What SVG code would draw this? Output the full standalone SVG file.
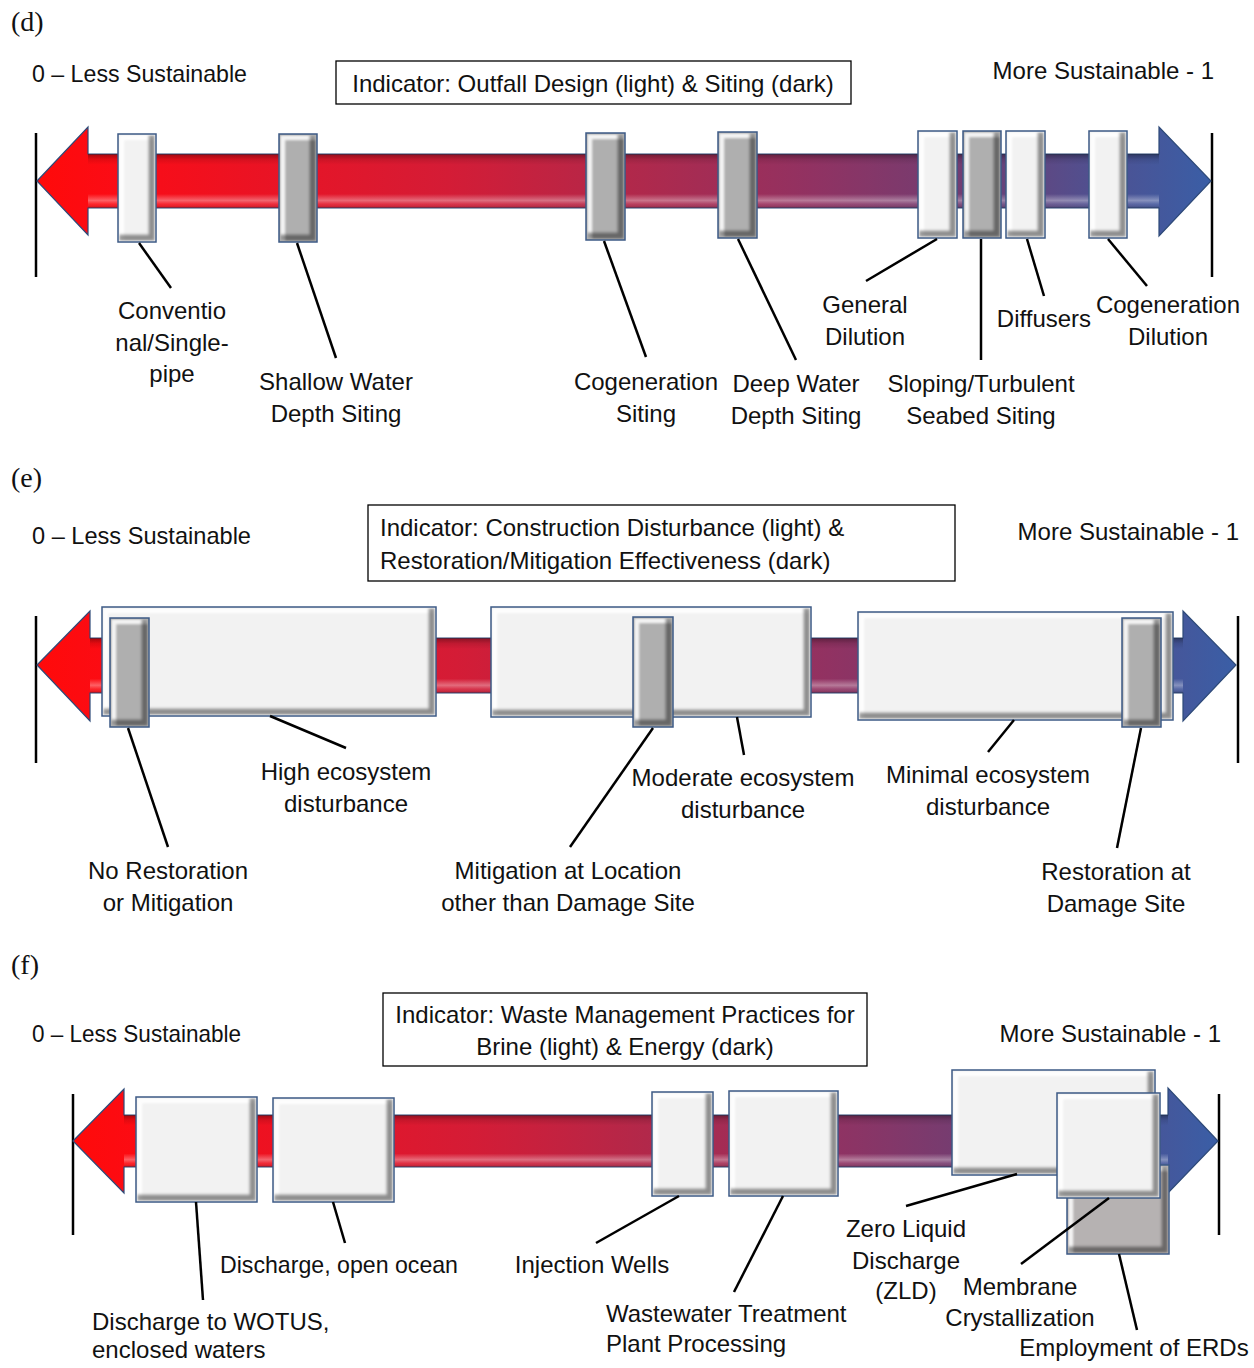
<svg xmlns="http://www.w3.org/2000/svg" width="1254" height="1368" viewBox="0 0 1254 1368">
<defs>
<style>
text{font-family:"Liberation Sans",Arial,sans-serif;font-size:24px;fill:#111;}
.pl{font-family:"Liberation Serif","Times New Roman",serif;font-size:28px;}
.c{text-anchor:middle;}
.r{text-anchor:end;}
.lt{fill:#f2f2f2;stroke:#3d5a85;stroke-width:1.5;filter:url(#bev);}
.dk{fill:#afafaf;stroke:#3d5a85;stroke-width:1.5;filter:url(#bev);}
.gr2{fill:#b6b2b2;stroke:#3d5a85;stroke-width:1.5;filter:url(#bev);}
.arr{fill:url(#grad);stroke:#2e4a78;stroke-width:1.2;}
.sh{fill:url(#shade);}
.ax{stroke:#000;stroke-width:2.5;fill:none;}
.ld line{stroke:#000;stroke-width:2.5;}
.tb{fill:#fff;stroke:#000;stroke-width:1.3;}
</style>
<linearGradient id="grad" x1="0" y1="0" x2="1" y2="0">
<stop offset="0" stop-color="#ff0a0a"/>
<stop offset="0.07" stop-color="#fb0c16"/>
<stop offset="0.35" stop-color="#d41c36"/>
<stop offset="0.5" stop-color="#b2284a"/>
<stop offset="0.66" stop-color="#913262"/>
<stop offset="0.8" stop-color="#6e3f74"/>
<stop offset="0.9" stop-color="#505090"/>
<stop offset="1" stop-color="#3a5ea6"/>
</linearGradient>
<linearGradient id="shade" x1="0" y1="0" x2="0" y2="1">
<stop offset="0" stop-color="#000" stop-opacity="0.35"/>
<stop offset="0.1" stop-color="#000" stop-opacity="0.1"/>
<stop offset="0.2" stop-color="#000" stop-opacity="0"/>
<stop offset="0.74" stop-color="#fff" stop-opacity="0"/>
<stop offset="0.86" stop-color="#fff" stop-opacity="0.35"/>
<stop offset="0.93" stop-color="#fff" stop-opacity="0.1"/>
<stop offset="1" stop-color="#000" stop-opacity="0.2"/>
</linearGradient>
<filter id="bev" x="-10%" y="-10%" width="120%" height="120%" color-interpolation-filters="sRGB">
<feMorphology in="SourceAlpha" operator="erode" radius="2" result="a"/>
<feOffset in="a" dx="-6" dy="-6" result="s1"/>
<feComposite in="a" in2="s1" operator="out" result="br0"/>
<feGaussianBlur in="br0" stdDeviation="1.6" result="br1"/>
<feComposite in="br1" in2="a" operator="in" result="br"/>
<feFlood flood-color="#000" flood-opacity="0.42" result="f1"/>
<feComposite in="f1" in2="br" operator="in" result="brc"/>
<feOffset in="a" dx="5" dy="5" result="s2"/>
<feComposite in="a" in2="s2" operator="out" result="tl0"/>
<feGaussianBlur in="tl0" stdDeviation="1.2" result="tl1"/>
<feComposite in="tl1" in2="a" operator="in" result="tl"/>
<feFlood flood-color="#fff" flood-opacity="0.85" result="f2"/>
<feComposite in="f2" in2="tl" operator="in" result="tlc"/>
<feMerge><feMergeNode in="SourceGraphic"/><feMergeNode in="tlc"/><feMergeNode in="brc"/></feMerge>
</filter>
</defs>
<rect width="1254" height="1368" fill="#fff"/>

<!-- ===== Panel (d) ===== -->
<g id="panel-d">
<text class="pl" x="11" y="31">(d)</text>
<text x="32" y="82" textLength="215" lengthAdjust="spacingAndGlyphs">0 – Less Sustainable</text>
<text class="r" x="1214" y="79">More Sustainable - 1</text>
<g id="d-title"><rect class="tb" x="336" y="61" width="515" height="43"/><text class="c" x="593" y="92">Indicator: Outfall Design (light) &amp; Siting (dark)</text></g>
<line class="ax" x1="36" y1="133" x2="36" y2="277"/>
<line class="ax" x1="1212" y1="133" x2="1212" y2="277"/>
<g id="d-arrow"><path class="arr" d="M37,181 L88,127 L88,154 L1159,154 L1159,127 L1211,181 L1159,236 L1159,208 L88,208 L88,235 Z"/><rect class="sh" x="88" y="154" width="1071" height="54"/></g>
</g>
<g id="d-conventional"><rect class="lt" x="118" y="134" width="38" height="108"/><text class="c" x="172" y="319">Conventio</text><text class="c" x="172" y="351">nal/Single-</text><text class="c" x="172" y="382">pipe</text></g>
<g id="d-shallow"><rect class="dk" x="279" y="134" width="38" height="108"/><text class="c" x="336" y="390">Shallow Water</text><text class="c" x="336" y="422">Depth Siting</text></g>
<g id="d-cogen-siting"><rect class="dk" x="586" y="133" width="39" height="107"/><text class="c" x="646" y="390">Cogeneration</text><text class="c" x="646" y="422">Siting</text></g>
<g id="d-deep"><rect class="dk" x="718" y="132" width="39" height="106"/><text class="c" x="796" y="392">Deep Water</text><text class="c" x="796" y="424">Depth Siting</text></g>
<g id="d-general"><rect class="lt" x="918" y="131" width="39" height="107"/><text class="c" x="865" y="313">General</text><text class="c" x="865" y="345">Dilution</text></g>
<g id="d-sloping"><rect class="dk" x="963" y="131" width="38" height="107"/><text class="c" x="981" y="392">Sloping/Turbulent</text><text class="c" x="981" y="424">Seabed Siting</text></g>
<g id="d-diffusers"><rect class="lt" x="1006" y="131" width="39" height="107"/><text class="c" x="1044" y="327">Diffusers</text></g>
<g id="d-cogen-dilution"><rect class="lt" x="1089" y="131" width="38" height="107"/><text class="c" x="1168" y="313">Cogeneration</text><text class="c" x="1168" y="345">Dilution</text></g>

<!-- ===== Panel (e) ===== -->
<g id="panel-e">
<text class="pl" x="11" y="487">(e)</text>
<text x="32" y="544" textLength="219" lengthAdjust="spacingAndGlyphs">0 – Less Sustainable</text>
<text class="r" x="1239" y="540">More Sustainable - 1</text>
<g id="e-title"><rect class="tb" x="368" y="505" width="587" height="76"/><text x="380" y="536">Indicator: Construction Disturbance (light) &amp;</text><text x="380" y="569">Restoration/Mitigation Effectiveness (dark)</text></g>
<line class="ax" x1="36" y1="616" x2="36" y2="763"/>
<line class="ax" x1="1238" y1="616" x2="1238" y2="763"/>
<g id="e-arrow"><path class="arr" d="M37,665 L90,611 L90,638 L1183,638 L1183,611 L1236,665 L1183,721 L1183,693 L90,693 L90,721 Z"/><rect class="sh" x="90" y="638" width="1093" height="55"/></g>
</g>
<g id="e-high"><rect class="lt" x="102" y="607" width="334" height="109"/><text class="c" x="346" y="780">High ecosystem</text><text class="c" x="346" y="812">disturbance</text></g>
<g id="e-moderate"><rect class="lt" x="491" y="607" width="320" height="110"/><text class="c" x="743" y="786">Moderate ecosystem</text><text class="c" x="743" y="818">disturbance</text></g>
<g id="e-minimal"><rect class="lt" x="858" y="612" width="315" height="108"/><text class="c" x="988" y="783">Minimal ecosystem</text><text class="c" x="988" y="815">disturbance</text></g>
<g id="e-norest"><rect class="dk" x="110" y="618" width="39" height="109"/><text class="c" x="168" y="879">No Restoration</text><text class="c" x="168" y="911">or Mitigation</text></g>
<g id="e-mitigation"><rect class="dk" x="633" y="617" width="40" height="110"/><text class="c" x="568" y="879">Mitigation at Location</text><text class="c" x="568" y="911">other than Damage Site</text></g>
<g id="e-restoration"><rect class="dk" x="1122" y="618" width="39" height="109"/><text class="c" x="1116" y="880">Restoration at</text><text class="c" x="1116" y="912">Damage Site</text></g>

<!-- ===== Panel (f) ===== -->
<g id="panel-f">
<text class="pl" x="11" y="974">(f)</text>
<text x="32" y="1042" textLength="209" lengthAdjust="spacingAndGlyphs">0 – Less Sustainable</text>
<text class="r" x="1221" y="1042">More Sustainable - 1</text>
<g id="f-title"><rect class="tb" x="383" y="993" width="484" height="73"/><text class="c" x="625" y="1023">Indicator: Waste Management Practices for</text><text class="c" x="625" y="1055">Brine (light) &amp; Energy (dark)</text></g>
<line class="ax" x1="73" y1="1094" x2="73" y2="1235"/>
<line class="ax" x1="1219" y1="1094" x2="1219" y2="1235"/>
<g id="f-arrow"><path class="arr" d="M73,1141 L124,1089 L124,1115 L1168,1115 L1168,1088 L1218,1141 L1168,1193 L1168,1167 L124,1167 L124,1193 Z"/><rect class="sh" x="124" y="1115" width="1044" height="52"/></g>
</g>
<g id="f-wotus"><rect class="lt" x="136" y="1097" width="121" height="105"/><text x="92" y="1330">Discharge to WOTUS,</text><text x="92" y="1358">enclosed waters</text></g>
<g id="f-ocean"><rect class="lt" x="273" y="1098" width="121" height="104"/><text class="c" x="339" y="1273" textLength="238" lengthAdjust="spacingAndGlyphs">Discharge, open ocean</text></g>
<g id="f-injection"><rect class="lt" x="652" y="1092" width="61" height="104"/><text class="c" x="592" y="1273">Injection Wells</text></g>
<g id="f-wwtp"><rect class="lt" x="729" y="1091" width="109" height="105"/><text x="606" y="1322">Wastewater Treatment</text><text x="606" y="1352">Plant Processing</text></g>
<g id="f-zld"><rect class="lt" x="952" y="1070" width="203" height="105"/><text class="c" x="906" y="1237">Zero Liquid</text><text class="c" x="906" y="1269">Discharge</text><text class="c" x="906" y="1299">(ZLD)</text></g>
<g id="f-erds"><rect class="gr2" x="1067" y="1165" width="102" height="89"/><text class="c" x="1134" y="1356" font-size="22">Employment of ERDs</text></g>
<g id="f-membrane"><rect class="lt" x="1057" y="1093" width="103" height="105"/><text class="c" x="1020" y="1295">Membrane</text><text class="c" x="1020" y="1326">Crystallization</text></g>

<!-- ===== Connectors ===== -->
<g id="connectors" class="ld">
<line x1="139" y1="243" x2="171" y2="288"/>
<line x1="297" y1="243" x2="336" y2="358"/>
<line x1="604" y1="241" x2="646" y2="357"/>
<line x1="738" y1="239" x2="796" y2="360"/>
<line x1="937" y1="239" x2="866" y2="281"/>
<line x1="981" y1="239" x2="981" y2="360"/>
<line x1="1027" y1="239" x2="1044" y2="296"/>
<line x1="1108" y1="239" x2="1147" y2="286"/>
<line x1="128" y1="728" x2="168" y2="847"/>
<line x1="270" y1="716" x2="346" y2="748"/>
<line x1="653" y1="728" x2="570" y2="847"/>
<line x1="737" y1="717" x2="744" y2="755"/>
<line x1="1014" y1="720" x2="988" y2="752"/>
<line x1="1141" y1="728" x2="1117" y2="848"/>
<line x1="196" y1="1202" x2="203" y2="1300"/>
<line x1="333" y1="1202" x2="345" y2="1243"/>
<line x1="679" y1="1196" x2="596" y2="1243"/>
<line x1="783" y1="1196" x2="734" y2="1292"/>
<line x1="1017" y1="1174" x2="906" y2="1206"/>
<line x1="1109" y1="1198" x2="1021" y2="1264"/>
<line x1="1119" y1="1254" x2="1137" y2="1330"/>
</g>
</svg>
